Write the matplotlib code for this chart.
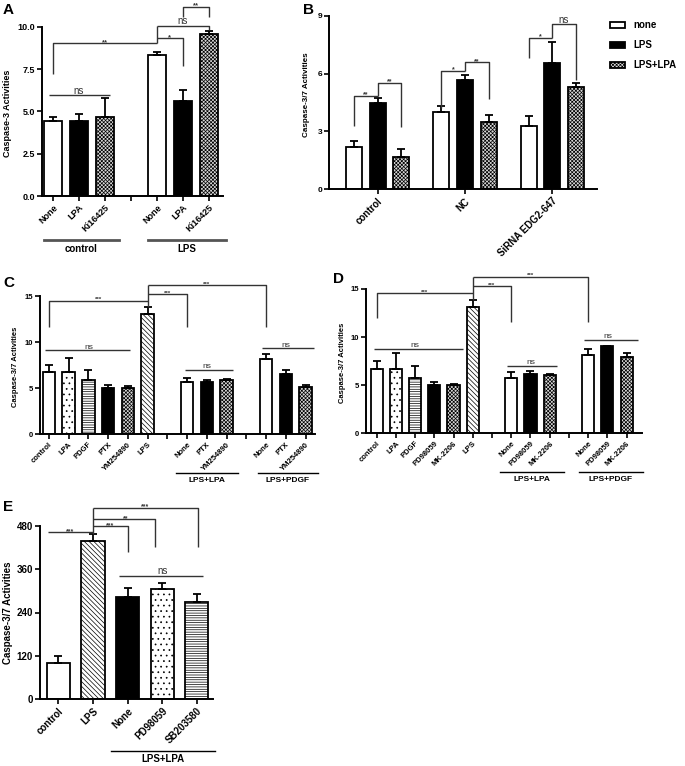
import matplotlib
matplotlib.use('Agg')
import matplotlib.pyplot as plt
from matplotlib.patches import Rectangle
import numpy as np

plt.rcParams['font.family'] = ['Liberation Sans', 'DejaVu Sans']
plt.rcParams['font.weight'] = 'bold'
plt.rcParams['hatch.linewidth'] = 0.5

# ---------------- data ----------------
A_labels = ['None', 'LPA', 'Ki16425', 'None', 'LPA', 'Ki16425']
A_groups = ['control', 'LPS']
A_means = [4.45, 4.45, 4.7, 8.35, 5.6, 9.6]
A_err = [0.25, 0.4, 1.1, 0.15, 0.65, 0.15]

B_groups = ['control', 'NC', 'SiRNA EDG2-647']
B_series = ['none', 'LPS', 'LPS+LPA']
B_none = [2.2, 4.02, 3.28]
B_none_err = [0.28, 0.3, 0.52]
B_lps = [4.49, 5.66, 6.56]
B_lps_err = [0.26, 0.26, 1.09]
B_lpslpa = [1.66, 3.5, 5.32]
B_lpslpa_err = [0.41, 0.35, 0.22]

C_labels = ['control', 'LPA', 'PDGF', 'PTX', 'YM254890', 'LPS',
            'None', 'PTX', 'YM254890', 'None', 'PTX', 'YM254890']
C_groups = ['LPS+LPA', 'LPS+PDGF']
C_means = [6.7, 6.7, 5.9, 5.0, 5.0, 13.05, 5.6, 5.6, 5.85, 8.1, 6.5, 5.15]
C_err = [0.8, 1.6, 1.05, 0.3, 0.2, 0.8, 0.5, 0.25, 0.15, 0.65, 0.5, 0.15]

D_labels = ['control', 'LPA', 'PDGF', 'PD98059', 'MK-2206', 'LPS',
            'None', 'PD98059', 'MK-2206', 'None', 'PD98059', 'MK-2206']
D_groups = ['LPS+LPA', 'LPS+PDGF']
D_means = [6.67, 6.67, 5.73, 4.97, 4.97, 13.1, 5.7, 6.15, 6.08, 8.1, 9.03, 7.88]
D_err = [0.8, 1.66, 1.27, 0.3, 0.15, 0.75, 0.65, 0.35, 0.1, 0.65, 0.03, 0.45]

E_labels = ['control', 'LPS', 'None', 'PD98059', 'SB203580']
E_groups = ['LPS+LPA']
E_means = [100, 437, 284, 305, 268]
E_err = [18, 21, 25, 17, 24]

YLABEL3 = 'Caspase-3 Activities'
YLABEL37 = 'Caspase-3/7 Activities'

# ---------------- styles ----------------
STY = {
    'open': dict(fc='white', hatch=None),
    'black': dict(fc='black', hatch=None),
    'check': dict(fc='#d8d8d8', hatch='xxxxxxxxx'),
    'dots': dict(fc='white', hatch='...'),
    'hlines': dict(fc='white', hatch='-------'),
    'diag': dict(fc='white', hatch='\\\\\\\\\\\\\\'),
}
BRC = '#333333'

W, H = 685, 766
fig = plt.figure(figsize=(W / 100, H / 100), dpi=100)


def add_ax(rect):
    x0, yt, x1, yb = rect
    ax = fig.add_axes([x0 / W, 1 - yb / H, (x1 - x0) / W, (yb - yt) / H])
    for s in ['top', 'right']:
        ax.spines[s].set_visible(False)
    for s in ['left', 'bottom']:
        ax.spines[s].set_linewidth(1.4)
    ax.tick_params(direction='out', length=3.5, width=1.2, pad=1.5)
    return ax


def yfrac(rect, ypx):
    return (rect[3] - ypx) / (rect[3] - rect[1])


def draw_bars(ax, pos, means, err, styles, width):
    for p, m, s in zip(pos, means, styles):
        st = STY[s]
        ax.bar(p, m, width, color=st['fc'], edgecolor='black', linewidth=1.3,
               hatch=st['hatch'], zorder=2)
    ax.errorbar(pos, means, yerr=[np.zeros(len(err)), err], fmt='none',
                ecolor='black', elinewidth=1.3, capsize=3, capthick=1.3, zorder=3)


def poly(ax, xs, ys, lw=1.0, color=BRC):
    ax.plot(xs, ys, color=color, lw=lw, clip_on=False, zorder=4,
            solid_capstyle='butt')


def txt(ax, x, yline, s, fs=6):
    is_ns = (s == 'ns')
    ax.annotate(s, (x, yline), xytext=(0, 1.2 if is_ns else -0.6),
                textcoords='offset points', ha='center', va='baseline',
                fontsize=fs, color=BRC, annotation_clip=False,
                fontweight='normal' if is_ns else 'bold')


def group_line(ax, rect, x1, x2, ypx, text, typx, fs, lw=1.0, color='black'):
    tr = ax.get_xaxis_transform()
    yf = yfrac(rect, ypx)
    ax.plot([x1, x2], [yf, yf], transform=tr, color=color, lw=lw, clip_on=False)
    ax.text((x1 + x2) / 2, yfrac(rect, typx), text, transform=tr, ha='center',
            va='center', fontsize=fs, clip_on=False)


def ylab(xpx, ypx, s, fs):
    fig.text(xpx / W, 1 - ypx / H, s, rotation=90, ha='center', va='center',
             fontsize=fs)


def panel_letter(xpx, ypx, s):
    fig.text(xpx / W, 1 - ypx / H, s, ha='left', va='top', fontsize=11,
             fontweight='bold')


# ---------------- Panel A ----------------
A_rect = (42, 27, 223, 196)
axA = add_ax(A_rect)
A_pos = [0, 1, 2, 4, 5, 6]
draw_bars(axA, A_pos, A_means, A_err,
          ['open', 'black', 'check', 'open', 'black', 'check'], 0.68)
axA.set_xlim(-0.42, 6.54)
axA.set_ylim(0, 10)
axA.set_yticks([0, 2.5, 5, 7.5, 10])
axA.set_yticklabels(['0.0', '2.5', '5.0', '7.5', '10.0'], fontsize=6.5)
axA.set_xticks([0, 1, 2, 3, 4, 5, 6])
axA.set_xticklabels(A_labels[:3] + [''] + A_labels[3:], rotation=45,
                    ha='right', rotation_mode='anchor', fontsize=6.5)
group_line(axA, A_rect, -0.35, 2.54, 240, A_groups[0], 249, 7, lw=2, color='#555555')
group_line(axA, A_rect, 3.67, 6.64, 240, A_groups[1], 249, 7, lw=2, color='#555555')
poly(axA, [0, 0, 4], [7.24, 9.05, 9.05])
txt(axA, 2, 9.05, '**', 5.5)
poly(axA, [4, 4], [9.05, 10.08])
poly(axA, [4, 5, 5], [9.35, 9.35, 7.7])
txt(axA, 4.5, 9.35, '*', 5.5)
poly(axA, [4, 6, 6], [10.08, 10.08, 9.85])
txt(axA, 5, 10.08, 'ns', 7)
poly(axA, [5, 5, 6, 6], [10.6, 11.2, 11.2, 10.6])
txt(axA, 5.5, 11.2, '**', 5.5)
poly(axA, [-0.15, 2.19], [5.96, 5.96])
txt(axA, 1, 5.96, 'ns', 7)
ylab(8, 113, YLABEL3, 6.5)
panel_letter(3, 3, 'A')

# ---------------- Panel B ----------------
B_rect = (329, 16, 597, 189)
axB = add_ax(B_rect)
B_centers = np.array([0, 3.71, 7.42])
for off, vals, errs, st in [(-1, B_none, B_none_err, 'open'),
                            (0, B_lps, B_lps_err, 'black'),
                            (1, B_lpslpa, B_lpslpa_err, 'check')]:
    draw_bars(axB, B_centers + off, vals, errs, [st] * 3, 0.68)
axB.set_xlim(-2.07, 9.32)
axB.set_ylim(0, 9)
axB.set_yticks([0, 3, 6, 9])
axB.tick_params(axis='y', labelsize=6)
axB.set_xticks(B_centers)
axB.set_xticklabels(B_groups, rotation=45, ha='right', rotation_mode='anchor',
                    fontsize=7)
c0, c1, c2 = B_centers
poly(axB, [c0 - 1, c0 - 1, c0], [3.28, 4.85, 4.85])
txt(axB, c0 - 0.5, 4.85, '**', 5)
poly(axB, [c0, c0, c0 + 1, c0 + 1], [4.85, 5.54, 5.54, 3.25])
txt(axB, c0 + 0.5, 5.54, '**', 5)
poly(axB, [c1 - 1, c1 - 1, c1], [4.2, 6.15, 6.15])
txt(axB, c1 - 0.5, 6.15, '*', 5)
poly(axB, [c1, c1, c1 + 1, c1 + 1], [6.15, 6.6, 6.6, 4.66])
txt(axB, c1 + 0.5, 6.6, '**', 5)
poly(axB, [c2 - 1, c2 - 1, c2], [6.84, 7.88, 7.88])
txt(axB, c2 - 0.5, 7.88, '*', 5)
poly(axB, [c2, c2, c2 + 1, c2 + 1], [7.88, 8.57, 8.57, 5.66])
txt(axB, c2 + 0.5, 8.57, 'ns', 7)
ylab(307, 95, YLABEL37, 5.8)
panel_letter(303, 3, 'B')
# legend
for i, (name, st) in enumerate(zip(B_series, ['open', 'black', 'check'])):
    yc = 25 + 20 * i
    fig.patches.append(Rectangle((610 / W, 1 - (yc + 3) / H), 15 / W, 6 / H,
                                 transform=fig.transFigure, facecolor=STY[st]['fc'],
                                 edgecolor='black', linewidth=1.3,
                                 hatch=STY[st]['hatch']))
    fig.text(633 / W, 1 - yc / H, name, ha='left', va='center', fontsize=7)

# ---------------- Panel C ----------------
C_rect = (40, 296, 315, 434)
axC = add_ax(C_rect)
C_pos = [0, 1, 2, 3, 4, 5, 7, 8, 9, 11, 12, 13]
draw_bars(axC, C_pos, C_means, C_err,
          ['open', 'dots', 'hlines', 'black', 'check', 'diag',
           'open', 'black', 'check', 'open', 'black', 'check'], 0.63)
axC.set_xlim(-0.45, 13.47)
axC.set_ylim(0, 15)
axC.set_yticks([0, 5, 10, 15])
axC.tick_params(axis='y', labelsize=5.5)
axC.set_xticks(list(range(14)))
axC.set_xticklabels(C_labels[:6] + [''] + C_labels[6:9] + [''] + C_labels[9:],
                    rotation=45, ha='right', rotation_mode='anchor', fontsize=5.5)
group_line(axC, C_rect, 6.44, 9.58, 473.3, C_groups[0], 480.5, 6)
group_line(axC, C_rect, 10.6, 13.6, 473.3, C_groups[1], 480.5, 6)
poly(axC, [0, 0, 5], [11.6, 14.5, 14.5])
txt(axC, 2.5, 14.5, '***', 4.5)
poly(axC, [5, 5], [13.85, 16.2])
poly(axC, [5, 7, 7], [15.2, 15.2, 11.6])
txt(axC, 6, 15.2, '***', 4.5)
poly(axC, [5, 11, 11], [16.2, 16.2, 11.6])
txt(axC, 8, 16.2, '***', 4.5)
poly(axC, [-0.2, 4.1], [9.1, 9.1])
txt(axC, 2, 9.1, 'ns', 6)
poly(axC, [6.9, 9.3], [7.0, 7.0])
txt(axC, 8, 7.0, 'ns', 6)
poly(axC, [10.8, 13.4], [9.3, 9.3])
txt(axC, 12, 9.3, 'ns', 6)
ylab(16, 367, YLABEL37, 5.5)
panel_letter(3, 276, 'C')

# ---------------- Panel D ----------------
D_rect = (366, 289, 642, 433)
axD = add_ax(D_rect)
D_pos = [0, 1, 2, 3, 4, 5, 7, 8, 9, 11, 12, 13]
draw_bars(axD, D_pos, D_means, D_err,
          ['open', 'dots', 'hlines', 'black', 'check', 'diag',
           'open', 'black', 'check', 'open', 'black', 'check'], 0.63)
axD.set_xlim(-0.55, 13.8)
axD.set_ylim(0, 15)
axD.set_yticks([0, 5, 10, 15])
axD.tick_params(axis='y', labelsize=5.5)
axD.set_xticks(list(range(14)))
axD.set_xticklabels(D_labels[:6] + [''] + D_labels[6:9] + [''] + D_labels[9:],
                    rotation=45, ha='right', rotation_mode='anchor', fontsize=5.5)
group_line(axD, D_rect, 6.43, 9.72, 472.3, D_groups[0], 479.5, 6)
group_line(axD, D_rect, 10.52, 13.83, 472.3, D_groups[1], 479.5, 6)
poly(axD, [0, 0, 5], [12.0, 14.6, 14.6])
txt(axD, 2.5, 14.6, '***', 4.5)
poly(axD, [5, 5], [13.85, 16.3])
poly(axD, [5, 7, 7], [15.3, 15.3, 11.6])
txt(axD, 6, 15.3, '***', 4.5)
poly(axD, [5, 11, 11], [16.3, 16.3, 11.6])
txt(axD, 8, 16.3, '***', 4.5)
poly(axD, [-0.15, 4.47], [8.8, 8.8])
txt(axD, 2, 8.8, 'ns', 6)
poly(axD, [6.8, 9.37], [7.0, 7.0])
txt(axD, 8, 7.0, 'ns', 6)
poly(axD, [10.8, 13.6], [9.7, 9.7])
txt(axD, 12, 9.7, 'ns', 6)
ylab(343, 363, YLABEL37, 5.5)
panel_letter(333, 272, 'D')

# ---------------- Panel E ----------------
E_rect = (40, 526, 213, 699)
axE = add_ax(E_rect)
E_pos = [0, 1, 2, 3, 4]
draw_bars(axE, E_pos, E_means, E_err,
          ['open', 'diag', 'black', 'dots', 'hlines'], 0.67)
axE.set_xlim(-0.53, 4.47)
axE.set_ylim(0, 480)
axE.set_yticks([0, 120, 240, 360, 480])
axE.tick_params(axis='y', labelsize=7)
axE.set_xticks(E_pos)
axE.set_xticklabels(E_labels, rotation=45, ha='right', rotation_mode='anchor',
                    fontsize=7)
group_line(axE, E_rect, 1.52, 4.52, 750.7, E_groups[0], 759.5, 7)
poly(axE, [-0.3, 1], [462, 462])
txt(axE, 0.35, 462, '***', 5)
poly(axE, [1, 1], [458, 531])
poly(axE, [1, 2, 2], [480, 480, 409])
txt(axE, 1.5, 480, '***', 5)
poly(axE, [1, 2.8, 2.8], [499, 499, 423])
txt(axE, 1.95, 499, '**', 5)
poly(axE, [1, 4.03, 4.03], [531, 531, 423])
txt(axE, 2.5, 531, '***', 5)
poly(axE, [1.76, 4.18], [341.5, 341.5])
txt(axE, 3, 341.5, 'ns', 7)
ylab(8, 613, YLABEL37, 7)
panel_letter(3, 500, 'E')

fig.savefig('out.png', dpi=100)
